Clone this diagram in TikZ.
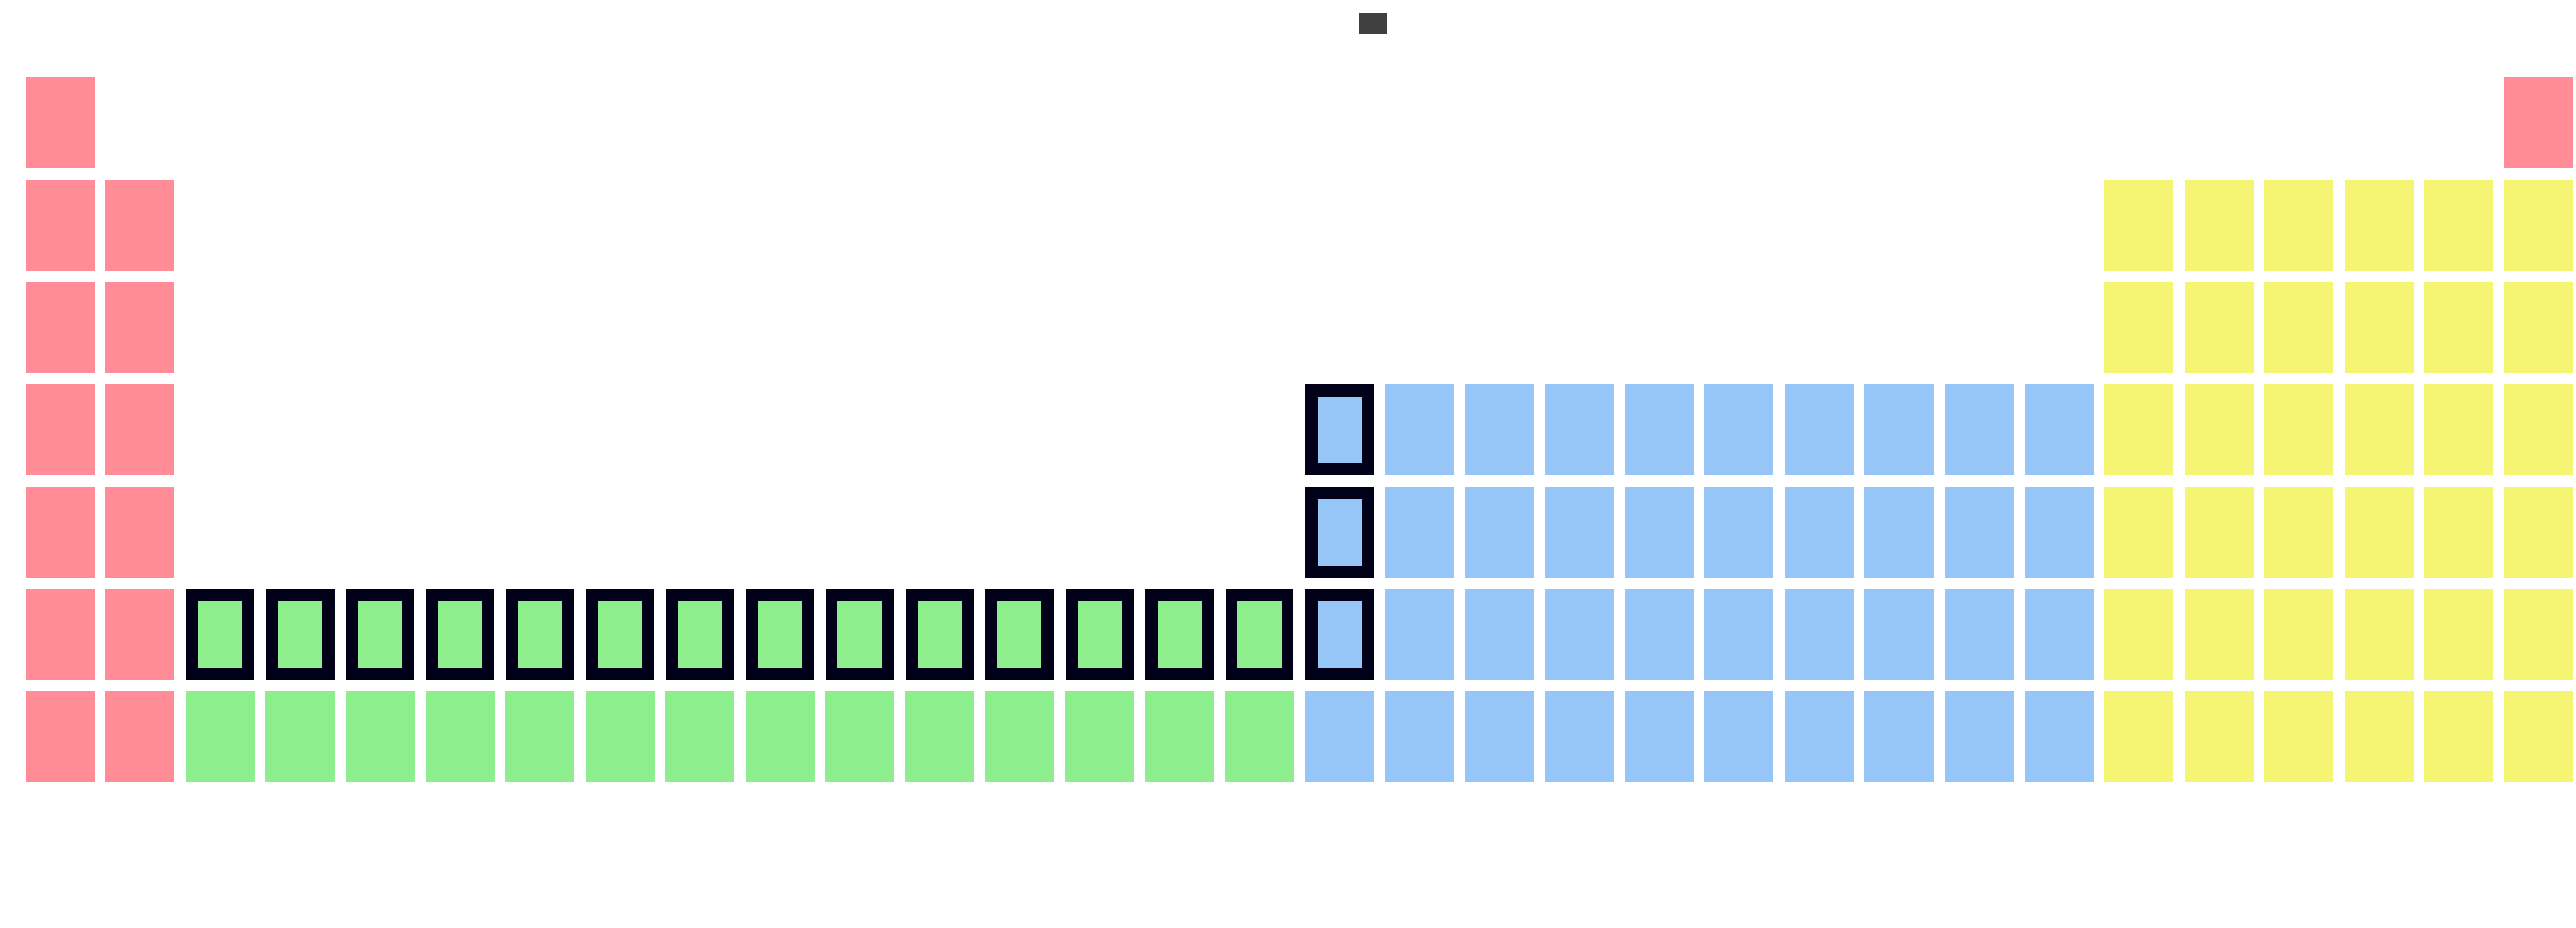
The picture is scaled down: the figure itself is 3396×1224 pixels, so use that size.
\documentclass[tikz,border=0pt]{standalone}
\definecolor{sblock}{RGB}{255,140,150}
\definecolor{pblock}{RGB}{245,245,115}
\definecolor{dblock}{RGB}{150,197,248}
\definecolor{fblock}{RGB}{140,238,140}
\usetikzlibrary{positioning}
\begin{document}
\begin{tikzpicture}[
  x=0.01cm, y=-0.01cm,
  cell/.style={minimum width=0.91cm, minimum height=1.2cm, inner sep=0pt, outer sep=0pt},
  plain/.style={},
  marked/.style={draw=black!90!blue, line width=4.5pt, minimum width=0.74cm, minimum height=1.04cm}
]
  \useasboundingbox (0,0) rectangle (3396,1224);
  \node[fill=black!75, minimum width=0.36cm, minimum height=0.28cm, inner sep=0pt] (dot) at (1810,31) {};
  \node[cell, fill=sblock] (s-1-1) at (79.5,162) {};
  \foreach \r in {2,...,7} {
    \foreach \c in {1,2}
      \node[cell, fill=sblock] (s-\r-\c) at ({79.5+105.4*(\c-1)},{162+135*(\r-1)}) {};
  }
  \node[cell, fill=sblock] (s-1-32) at ({79.5+105.4*31},162) {};
  \foreach \r in {2,...,7} {
    \foreach \c in {27,...,32}
      \node[cell, fill=pblock] (p-\r-\c) at ({79.5+105.4*(\c-1)},{162+135*(\r-1)}) {};
  }
  \foreach \r/\st in {4/marked,5/marked,6/marked,7/plain}
    \node[cell, \st, fill=dblock] (d-\r-17) at ({79.5+105.4*16},{162+135*(\r-1)}) {};
  \foreach \r in {4,...,7} {
    \foreach \c in {18,...,26}
      \node[cell, fill=dblock] (d-\r-\c) at ({79.5+105.4*(\c-1)},{162+135*(\r-1)}) {};
  }
  \foreach \r/\st in {6/marked,7/plain} {
    \foreach \c in {3,...,16}
      \node[cell, \st, fill=fblock] (f-\r-\c) at ({79.5+105.4*(\c-1)},{162+135*(\r-1)}) {};
  }
\end{tikzpicture}
\end{document}
